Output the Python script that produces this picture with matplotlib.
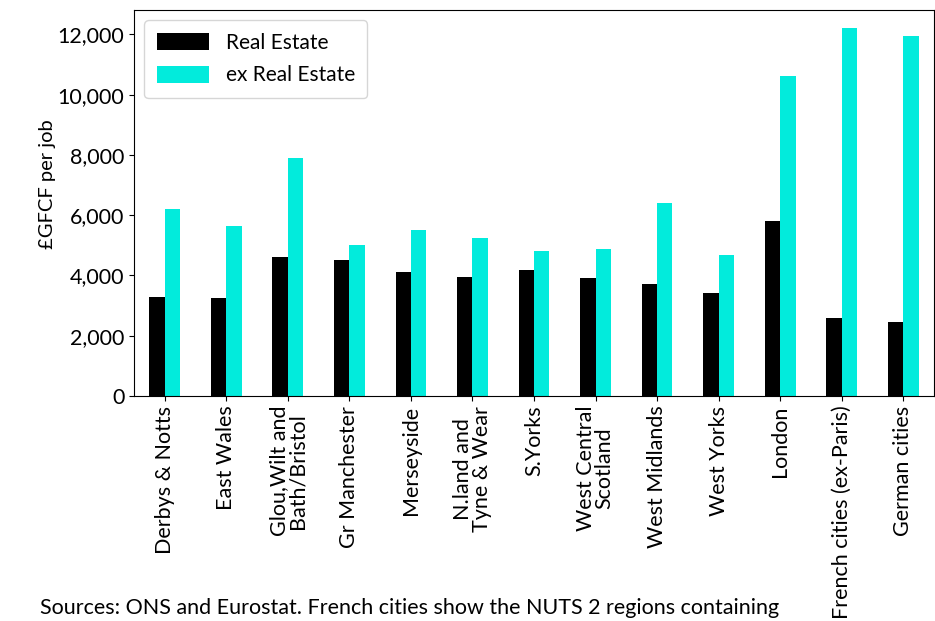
import numpy as np
import matplotlib.pyplot as plt

plt.rcParams['font.family'] = ['Lato', 'DejaVu Sans']

regions = ['Derbys & Notts', 'East Wales', 'Glou,Wilt and\nBath/Bristol',
           'Gr Manchester', 'Merseyside', 'N.land and\nTyne & Wear', 'S.Yorks',
           'West Central\nScotland', 'West Midlands', 'West Yorks', 'London',
           'French cities (ex-Paris)', 'German cities']
real_estate = [3300, 3260, 4620, 4510, 4110, 3950, 4180,
               3910, 3710, 3410, 5800, 2580, 2450]
ex_real_estate = [6220, 5630, 7900, 5000, 5500, 5230, 4800,
                  4870, 6400, 4670, 10620, 12220, 11950]

fig = plt.figure(figsize=(9.35, 6.21), dpi=100)
ax = fig.add_axes([134 / 935, (621 - 396) / 621, 800 / 935, 386 / 621])

x = np.arange(len(regions))
w = 0.25
ax.bar(x - w / 2, real_estate, w, color='black', label='Real Estate')
ax.bar(x + w / 2, ex_real_estate, w, color='#02EBDC', label='ex Real Estate')

ax.set_xlim(-0.5, len(regions) - 0.5)
ax.set_ylim(0, 12810)
ax.set_yticks(np.arange(0, 12001, 2000))
ax.set_yticklabels([f'{v:,}' for v in range(0, 12001, 2000)], fontsize=15.5)
ax.set_xticks(x)
ax.set_xticklabels(regions, rotation=90, fontsize=15.5, linespacing=0.9)
ax.set_ylabel('£GFCF per job', fontsize=14.5)
ax.yaxis.set_label_coords(-0.097, 0.55)

ax.legend(loc='upper left', fontsize=15, borderpad=0.6, handlelength=2.5,
          handleheight=0.9, labelspacing=0.6)

fig.text(0.043, 3 / 621, 'Sources: ONS and Eurostat. French cities show the NUTS 2 regions containing',
         fontsize=15.5, va='bottom')

fig.savefig('out.png', dpi=100)
